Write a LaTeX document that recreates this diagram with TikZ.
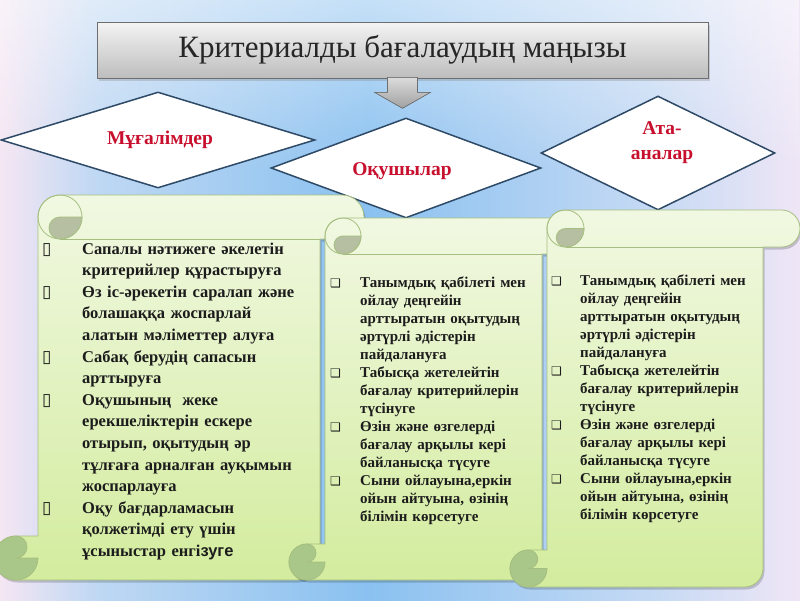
\documentclass[tikz,border=0pt]{standalone}
\usepackage{fontspec}
\setmainfont{Liberation Serif}
\setsansfont{Liberation Sans}
\newfontfamily\symfont{DejaVu Sans}
\usepackage{tikz}
\usetikzlibrary{shapes.geometric,fadings,shadows,positioning}

\definecolor{bgpink}{HTML}{F5E6F3}
\definecolor{bgmid}{HTML}{BFD8F3}
\definecolor{bgblue}{HTML}{8AC1F0}
\definecolor{bgmidr}{HTML}{C6DAF4}
\definecolor{bglav}{HTML}{EFE6F6}
\definecolor{boxtop}{HTML}{F4F4F4}
\definecolor{boxbot}{HTML}{BDBDBD}
\definecolor{boxline}{HTML}{6E6E6E}
\definecolor{titletext}{HTML}{262626}
\definecolor{dmdline}{HTML}{2E4A66}
\definecolor{dmdred}{HTML}{C8102E}
\definecolor{scrolltop}{HTML}{F1F8E2}
\definecolor{scrollbot}{HTML}{D3EC9E}
\definecolor{scrollline}{HTML}{A6BF80}
\definecolor{curlgray}{HTML}{B7BFA3}
\definecolor{curlgreen}{HTML}{A9C789}
\definecolor{inktext}{HTML}{1C1C1C}

\pgfdeclarehorizontalshading{bgshade}{100bp}{color(0bp)=(bgpink); color(25bp)=(bgpink); color(31bp)=(bgmid); color(48bp)=(bgblue); color(66bp)=(bgmidr); color(75bp)=(bglav); color(100bp)=(bglav)}

\newlength{\bulind}
\newcommand{\itm}[2]{\noindent\hangindent=\bulind\hangafter=1\makebox[\bulind][l]{#1}#2\par}
\newcommand{\boxbul}{{\symfont\fontsize{17}{17}\selectfont\hspace{2pt}\char"25AF}}
\newcommand{\chkbul}{{\symfont\fontsize{12}{12}\selectfont\char"2751}}

\newcommand{\scrollshape}[5]{%
  \pgfmathsetmacro\rL{#1}\pgfmathsetmacro\rT{#2}%
  \pgfmathsetmacro\rR{#3}\pgfmathsetmacro\rB{#4}%
  \pgfmathsetmacro\rC{#5}\pgfmathsetmacro\rH{#5/2}\pgfmathsetmacro\rQ{#5/4}%
  \def\rollpath{(\rL+\rC,\rB-\rC) -- (\rL+\rC,\rT+\rH)
    arc[start angle=180,end angle=270,radius=\rH] -- (\rR-\rH,\rT)
    arc[start angle=270,end angle=450,radius=\rH] -- (\rR-\rC,\rT+\rC)
    -- (\rR-\rC,\rB-\rH) arc[start angle=0,end angle=90,radius=\rH]
    -- (\rL+\rH,\rB) arc[start angle=90,end angle=270,radius=\rH] -- cycle}%
  \fill[black,opacity=0.18,transform canvas={xshift=1.5pt,yshift=-2.5pt}] \rollpath;
  \draw[scrollbody] \rollpath;
  \draw[scrollrim] (\rL+\rC+\rH,\rT+\rC) -- (\rR-\rC,\rT+\rC);
  \draw[scrollrim] (\rL+\rC+\rH,\rT+\rH) circle[radius=\rH];
  \filldraw[scrollrim,fill=curlgray] (\rL+2*\rC,\rT+\rH) arc[start angle=0,end angle=90,radius=\rH]
    arc[start angle=90,end angle=270,radius=\rQ] -- cycle;
  \filldraw[scrollrim,fill=curlgreen] (\rL+\rC,\rB-\rH) arc[start angle=0,end angle=270,radius=\rH]
    arc[start angle=270,end angle=450,radius=\rQ] -- cycle;
}

\tikzset{
  titlebox/.style={draw=boxline, line width=0.6pt, top color=boxtop, bottom color=boxbot,
    minimum width=611pt, minimum height=56pt, inner sep=0pt, text=titletext,
    font=\fontsize{31}{31}\selectfont, drop shadow={shadow xshift=2pt, shadow yshift=-3pt, opacity=0.3}},
  blockarrow/.style={draw=boxline, line width=0.6pt, top color=boxtop!90!black, bottom color=boxbot!85!black},
  dmd/.style={diamond, draw=dmdline, line width=1.5pt, fill=white, inner sep=0pt},
  dmdtext/.style={font=\bfseries\fontsize{19.5}{25}\selectfont, text=dmdred, align=center, inner sep=0pt},
  scrollbody/.style={draw=scrollline, line width=0.8pt, top color=scrolltop, bottom color=scrollbot},
  scrollrim/.style={draw=scrollline, line width=0.8pt},
  scrolltext/.style={inner sep=0pt, anchor=base west, text=inktext}
}

\begin{document}
\begin{tikzpicture}[x=1pt,y=-1pt]
\useasboundingbox (0,0) rectangle (800,600);
\shade[shading=bgshade] (0,0) rectangle (800,600);
\fill[white,path fading=south,opacity=0.5] (0,0) rectangle (800,170);

\node[titlebox] (title) at (402.5,50) {Критериалды бағалаудың маңызы};
\begin{scope}[shift={(title.south)}]
\filldraw[blockarrow] (-15,-1) -- (15,-1) -- (15,14) -- (28,14) -- (0,30) -- (-28,14) -- (-15,14) -- cycle;
\end{scope}

\node[dmd, minimum width=314pt, minimum height=96pt] (teach) at (158,140) {};
\node[dmd, minimum width=270pt, minimum height=100pt] (pupil) at (406,168) {};
\node[dmd, minimum width=234pt, minimum height=114pt] (parent) at (658,153) {};
\node[dmdtext] (teachtxt) at (160,140) {Мұғалімдер};
\node[dmdtext] (pupiltxt) at (402,171) {Оқушылар};
\node[dmdtext] (parenttxt) at (662,143) {Ата-\\аналар};

\foreach \l/\t/\r/\b/\c in {-6/195/364/580/44, 289/218/578/580/36, 510/210/800/587/37} {
  \scrollshape{\l}{\t}{\r}{\b}{\c}
}

\node[scrolltext, text width=290pt, font=\bfseries\fontsize{16.5}{21.6}\selectfont] (teachlist) at (40,254) {%
\setlength{\bulind}{42pt}%
\itm{\boxbul}{Сапалы нәтижеге әкелетін\newline критерийлер құрастыруға}%
\itm{\boxbul}{Өз іс-әрекетін саралап және\newline болашаққа жоспарлай\newline алатын мәліметтер алуға}%
\itm{\boxbul}{Сабақ берудің сапасын\newline арттыруға}%
\itm{\boxbul}{Оқушының\ \ жеке\newline ерекшеліктерін ескере\newline отырып, оқытудың әр\newline тұлғаға арналған ауқымын\newline жоспарлауға}%
\itm{\boxbul}{Оқу бағдарламасын\newline қолжетімді ету үшін\newline ұсыныстар енгі{\sffamily зуге}}};

\node[scrolltext, text width=215pt, font=\bfseries\fontsize{15}{18}\selectfont] (pupillist) at (330,287) {%
\setlength{\bulind}{30pt}%
\itm{\chkbul}{Танымдық қабілеті мен\newline ойлау деңгейін\newline арттыратын оқытудың\newline әртүрлі әдістерін\newline пайдалануға}%
\itm{\chkbul}{Табысқа жетелейтін\newline бағалау критерийлерін\newline түсінуге}%
\itm{\chkbul}{Өзін және өзгелерді\newline бағалау арқылы кері\newline байланысқа түсуге}%
\itm{\chkbul}{Сыни ойлауына,еркін\newline ойын айтуына, өзінің\newline білімін көрсетуге}};

\node[scrolltext, text width=215pt, font=\bfseries\fontsize{15}{18}\selectfont] (parentlist) at (551,285) {%
\setlength{\bulind}{29pt}%
\itm{\chkbul}{Танымдық қабілеті мен\newline ойлау деңгейін\newline арттыратын оқытудың\newline әртүрлі әдістерін\newline пайдалануға}%
\itm{\chkbul}{Табысқа жетелейтін\newline бағалау критерийлерін\newline түсінуге}%
\itm{\chkbul}{Өзін және өзгелерді\newline бағалау арқылы кері\newline байланысқа түсуге}%
\itm{\chkbul}{Сыни ойлауына,еркін\newline ойын айтуына, өзінің\newline білімін көрсетуге}};
\end{tikzpicture}
\end{document}
